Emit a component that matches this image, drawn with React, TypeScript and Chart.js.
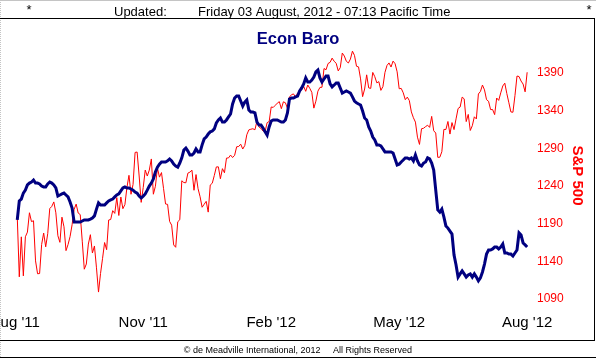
import React, { useEffect, useRef } from 'react';
import { Chart, registerables } from 'chart.js';

Chart.register(...registerables);

// S&P 500 daily closes, trading days 5 Aug 2011 .. 3 Aug 2012 (index = trading day)
const spx: number[] = [
  1199.38, 1119.46, 1172.53, 1120.76, 1172.64, 1178.81, 1204.49, 1192.76, 1193.89, 1140.65, 1123.53, 1123.82, 1162.35, 1177.6, 1159.27, 1176.8, 1210.08, 1212.92, 1218.89,
  1204.42, 1173.97, 1165.24, 1198.62, 1185.9, 1154.23, 1162.27, 1172.87, 1188.68, 1209.11, 1216.01, 1204.09, 1202.09, 1166.76, 1129.56, 1136.43, 1162.95, 1175.38, 1151.06, 1160.4, 1131.42,
  1099.23, 1123.95, 1144.03, 1164.97, 1155.46, 1194.89, 1195.54, 1207.25, 1203.66, 1224.58, 1200.86, 1225.38, 1209.88, 1215.39, 1238.25, 1254.19, 1229.05, 1242.0, 1284.59, 1285.09, 1253.3,
  1218.28, 1237.9, 1261.15, 1253.23, 1261.12, 1275.92, 1229.1, 1239.7, 1263.85, 1251.78, 1257.81, 1236.91, 1216.13, 1215.65, 1192.98, 1188.04, 1161.79, 1158.67, 1192.55, 1195.19, 1246.96,
  1244.58, 1244.28, 1257.08, 1258.47, 1261.01, 1234.35, 1255.19, 1236.47, 1225.73, 1211.82, 1215.75, 1219.66, 1205.35, 1241.3, 1243.72, 1254.0, 1265.33, 1265.43, 1249.64, 1263.02, 1257.6,
  1277.06, 1277.3, 1281.06, 1277.81, 1280.7, 1292.08, 1292.48, 1295.5, 1289.09, 1293.67, 1308.04, 1314.5, 1315.38, 1316.0, 1314.65, 1326.06, 1318.43, 1316.33, 1313.01, 1312.41,
  1324.09, 1325.54, 1344.9, 1344.33, 1347.05, 1349.96, 1351.95, 1342.64, 1351.77, 1350.5, 1343.23, 1358.04, 1361.23, 1362.21, 1357.66, 1363.46, 1365.74, 1367.59, 1372.18, 1365.68,
  1374.09, 1369.63, 1364.33, 1343.36, 1352.63, 1365.91, 1370.87, 1371.09, 1395.95, 1394.28, 1402.6, 1404.17, 1409.75, 1405.52, 1402.89, 1392.78, 1397.11, 1416.51, 1412.52, 1405.54, 1403.28, 1408.47,
  1419.04, 1413.38, 1398.96, 1398.08, 1382.2, 1358.59, 1368.71, 1387.57, 1370.26, 1369.57, 1390.78, 1385.14, 1376.92, 1378.53, 1366.94, 1371.97, 1390.69, 1399.98, 1403.36, 1397.91,
  1405.82, 1402.31, 1391.57, 1369.1, 1369.58, 1363.72, 1354.58, 1357.99, 1353.39, 1338.35, 1330.66, 1324.8, 1304.86, 1295.22, 1315.99, 1316.63, 1318.86, 1320.68, 1317.82, 1332.42, 1313.32, 1310.33,
  1278.04, 1278.18, 1285.5, 1315.13, 1314.99, 1325.66, 1308.93, 1324.18, 1314.88, 1329.1, 1342.84, 1344.78, 1357.98, 1355.69, 1325.51, 1335.02, 1313.72, 1319.99, 1331.85, 1329.04, 1362.16,
  1365.51, 1374.02, 1367.58, 1354.68, 1352.46, 1341.47, 1341.45, 1334.76, 1356.78, 1353.64, 1363.67, 1372.78, 1376.51, 1362.66, 1350.52, 1338.31, 1337.89, 1360.02, 1385.97, 1385.3, 1379.32,
  1375.32, 1365.0, 1390.99,
];

// Econ Baro (unlabelled axis, read as 0..100 of the plot height), same trading days
const econ: number[] = [
  33.6, 40.6, 41.3, 43.5, 44.6, 46.5, 47.2, 47.6, 48.3, 47.2, 47.2, 46.9, 46.1, 45.8, 45.8, 46.9, 47.6, 47.2, 46.5, 45.4,
  42.4, 42.8, 43.2, 43.5, 42.8, 42.1, 40.2, 38.0, 32.8, 32.8, 32.8, 32.8, 33.2, 33.6, 33.6, 33.6, 33.9, 34.3, 35.1, 37.6,
  39.9, 39.1, 39.1, 39.1, 39.9, 40.6, 41.0, 41.3, 42.1, 42.8, 43.2, 44.3, 45.4, 45.8, 45.4, 45.4, 45.0, 44.6, 43.9, 43.5,
  42.4, 41.7, 42.4, 43.2, 44.6, 46.1, 47.2, 48.7, 51.3, 53.1, 54.2, 55.0, 55.0, 55.0, 55.4, 56.1, 55.4, 54.2, 53.5, 53.1,
  54.6, 56.5, 59.4, 60.1, 59.0, 57.6, 57.6, 58.3, 59.8, 58.7, 58.7, 61.3, 63.5, 64.2, 65.3, 66.1, 66.4, 67.2, 69.4, 70.5,
  71.2, 69.7, 69.7, 70.5, 71.6, 72.7, 76.4, 78.6, 79.3, 79.3, 77.5, 75.6, 77.1, 77.9, 74.2, 73.4, 73.4, 73.1, 69.7, 68.6,
  68.6, 67.5, 66.1, 64.9, 67.9, 70.1, 70.5, 70.5, 70.5, 70.1, 69.7, 69.7, 70.5, 73.1, 78.2, 78.6, 78.6, 79.0, 79.3, 81.2,
  82.3, 83.8, 86.0, 84.5, 84.5, 85.2, 86.3, 88.2, 88.9, 86.0, 84.5, 85.6, 86.7, 86.7, 83.8, 82.7, 83.4, 84.1, 84.1, 82.3,
  80.4, 80.8, 81.2, 80.8, 80.4, 79.0, 77.5, 76.8, 76.4, 76.0, 73.8, 71.2, 70.5, 67.9, 66.4, 64.2, 63.1, 61.3, 61.3, 60.9,
  59.8, 58.7, 58.7, 58.7, 58.7, 58.3, 56.1, 53.9, 54.2, 55.0, 55.7, 56.5, 56.5, 56.1, 56.5, 55.4, 57.6, 55.4, 53.9, 53.5,
  54.6, 55.0, 56.5, 56.1, 54.6, 52.0, 44.6, 37.3, 36.5, 37.6, 34.7, 31.4, 30.6, 29.5, 28.4, 20.7, 17.0, 12.5, 13.7, 14.8,
  13.7, 12.5, 13.3, 13.7, 12.5, 13.7, 12.5, 11.1, 12.2, 14.4, 17.3, 21.0, 22.5, 22.5, 22.9, 23.6, 23.6, 22.9, 23.6, 24.7,
  21.4, 21.4, 21.0, 21.0, 20.3, 21.4, 22.5, 28.8, 28.0, 25.1, 24.4, 23.6,
];

const xTickDays: number[] = [-1, 62, 125, 188, 251];
const xTickLabels: string[] = ["Aug '11", "Nov '11", "Feb '12", "May '12", "Aug '12"];
const spxTicks: number[] = [1090, 1140, 1190, 1240, 1290, 1340, 1390];

const chartTitle = 'Econ Baro';
const axisTitle = 'S&P 500';
const updatedLabel = 'Updated:';
const updatedText = 'Friday 03 August, 2012 - 07:13 Pacific Time';
const footerText = '\u00A9 de Meadville International, 2012     All Rights Reserved';

const FAM = "'Liberation Sans', Arial, Helvetica, sans-serif";

const framePlugin = {
  id: 'frameDeco',
  beforeDraw(chart: any) {
    const ctx = chart.ctx;
    ctx.save();
    ctx.fillStyle = '#ffffff';
    ctx.fillRect(0, 0, chart.width, chart.height);
    ctx.restore();
  },
  afterDraw(chart: any) {
    const ctx = chart.ctx;
    const W = chart.width;
    const H = chart.height;
    ctx.save();
    // outer edges
    ctx.fillStyle = '#c4c4c4';
    ctx.fillRect(0, 0, W, 1);
    for (let y = 0; y < H; y += 2) ctx.fillRect(0, y, 1, 1);
    // frame
    ctx.fillStyle = '#000000';
    ctx.fillRect(0, 18, 595, 1);
    ctx.fillRect(594, 18, 1, 323);
    ctx.fillRect(0, 340, 595, 1);
    ctx.fillRect(0, 357, W, 1);
    // header
    ctx.font = `13px ${FAM}`;
    ctx.textBaseline = 'alphabetic';
    ctx.textAlign = 'center';
    ctx.fillText('*', 29, 14);
    ctx.fillText('*', 589, 14);
    ctx.textAlign = 'left';
    ctx.fillText(updatedLabel, 114, 15.5);
    ctx.fillText(updatedText, 198, 15.5);
    // title
    ctx.font = `bold 16.5px ${FAM}`;
    ctx.fillStyle = '#000080';
    ctx.textAlign = 'center';
    ctx.fillText(chartTitle, 298, 44);
    // footer
    ctx.font = `9px ${FAM}`;
    ctx.fillStyle = '#000000';
    ctx.fillText(footerText, 298, 352.5);
    ctx.restore();
  },
};

export default function App() {
  const ref = useRef<HTMLCanvasElement>(null);
  useEffect(() => {
    if (!ref.current) return;
    const chart = new Chart(ref.current, {
      type: 'line',
      data: {
        datasets: [
          {
            label: chartTitle,
            data: econ.map((v, i) => ({ x: i, y: v })),
            yAxisID: 'yEcon',
            borderColor: '#000080',
            borderWidth: 3,
            pointRadius: 0,
            tension: 0,
            fill: false,
          },
          {
            label: axisTitle,
            data: spx.map((v, i) => ({ x: i, y: v })),
            yAxisID: 'y',
            borderColor: '#ff0000',
            borderWidth: 1,
            pointRadius: 0,
            tension: 0,
            fill: false,
          },
        ],
      },
      options: {
        responsive: false,
        animation: false,
        devicePixelRatio: 1,
        events: [],
        layout: { padding: { left: 1, right: 2, top: 40, bottom: 0 } },
        plugins: {
          legend: { display: false },
          tooltip: { enabled: false },
          title: { display: false },
        },
        scales: {
          x: {
            type: 'linear',
            position: 'bottom',
            min: -8,
            max: 252.4,
            bounds: 'data',
            grid: { display: false, drawTicks: false },
            border: { display: false },
            afterBuildTicks: (s: any) => {
              s.ticks = xTickDays.map((v) => ({ value: v }));
            },
            afterFit: (s: any) => {
              s.height = 47;
              s.paddingLeft = 0;
              s.paddingRight = 0;
            },
            ticks: {
              autoSkip: false,
              maxRotation: 0,
              minRotation: 0,
              padding: 3,
              color: '#000000',
              font: { family: FAM, size: 15 },
              callback: (_v: any, i: number) => xTickLabels[i],
            },
          },
          y: {
            type: 'linear',
            position: 'right',
            min: 1074.1,
            max: 1433.8,
            bounds: 'data',
            grid: { display: false, drawTicks: false },
            border: { display: false },
            afterBuildTicks: (s: any) => {
              s.ticks = spxTicks.map((v) => ({ value: v }));
            },
            afterFit: (s: any) => {
              s.width = 64;
            },
            ticks: {
              padding: 7,
              color: '#ff0000',
              font: { family: FAM, size: 12 },
              callback: (v: any) => String(v),
            },
            title: {
              display: true,
              text: axisTitle,
              color: '#ff0000',
              font: { family: FAM, size: 15, weight: 'bold' },
              padding: { top: 8, bottom: 0 },
            },
          },
          yEcon: {
            type: 'linear',
            display: false,
            min: 0,
            max: 100,
            bounds: 'data',
          },
        },
      },
      plugins: [framePlugin],
    } as any);
    return () => chart.destroy();
  }, []);

  return (
    <div style={{ position: 'fixed', left: 0, top: 0, width: 596, height: 358, background: '#ffffff' }}>
      <canvas ref={ref} width={596} height={358} style={{ display: 'block', width: 596, height: 358 }} />
    </div>
  );
}
